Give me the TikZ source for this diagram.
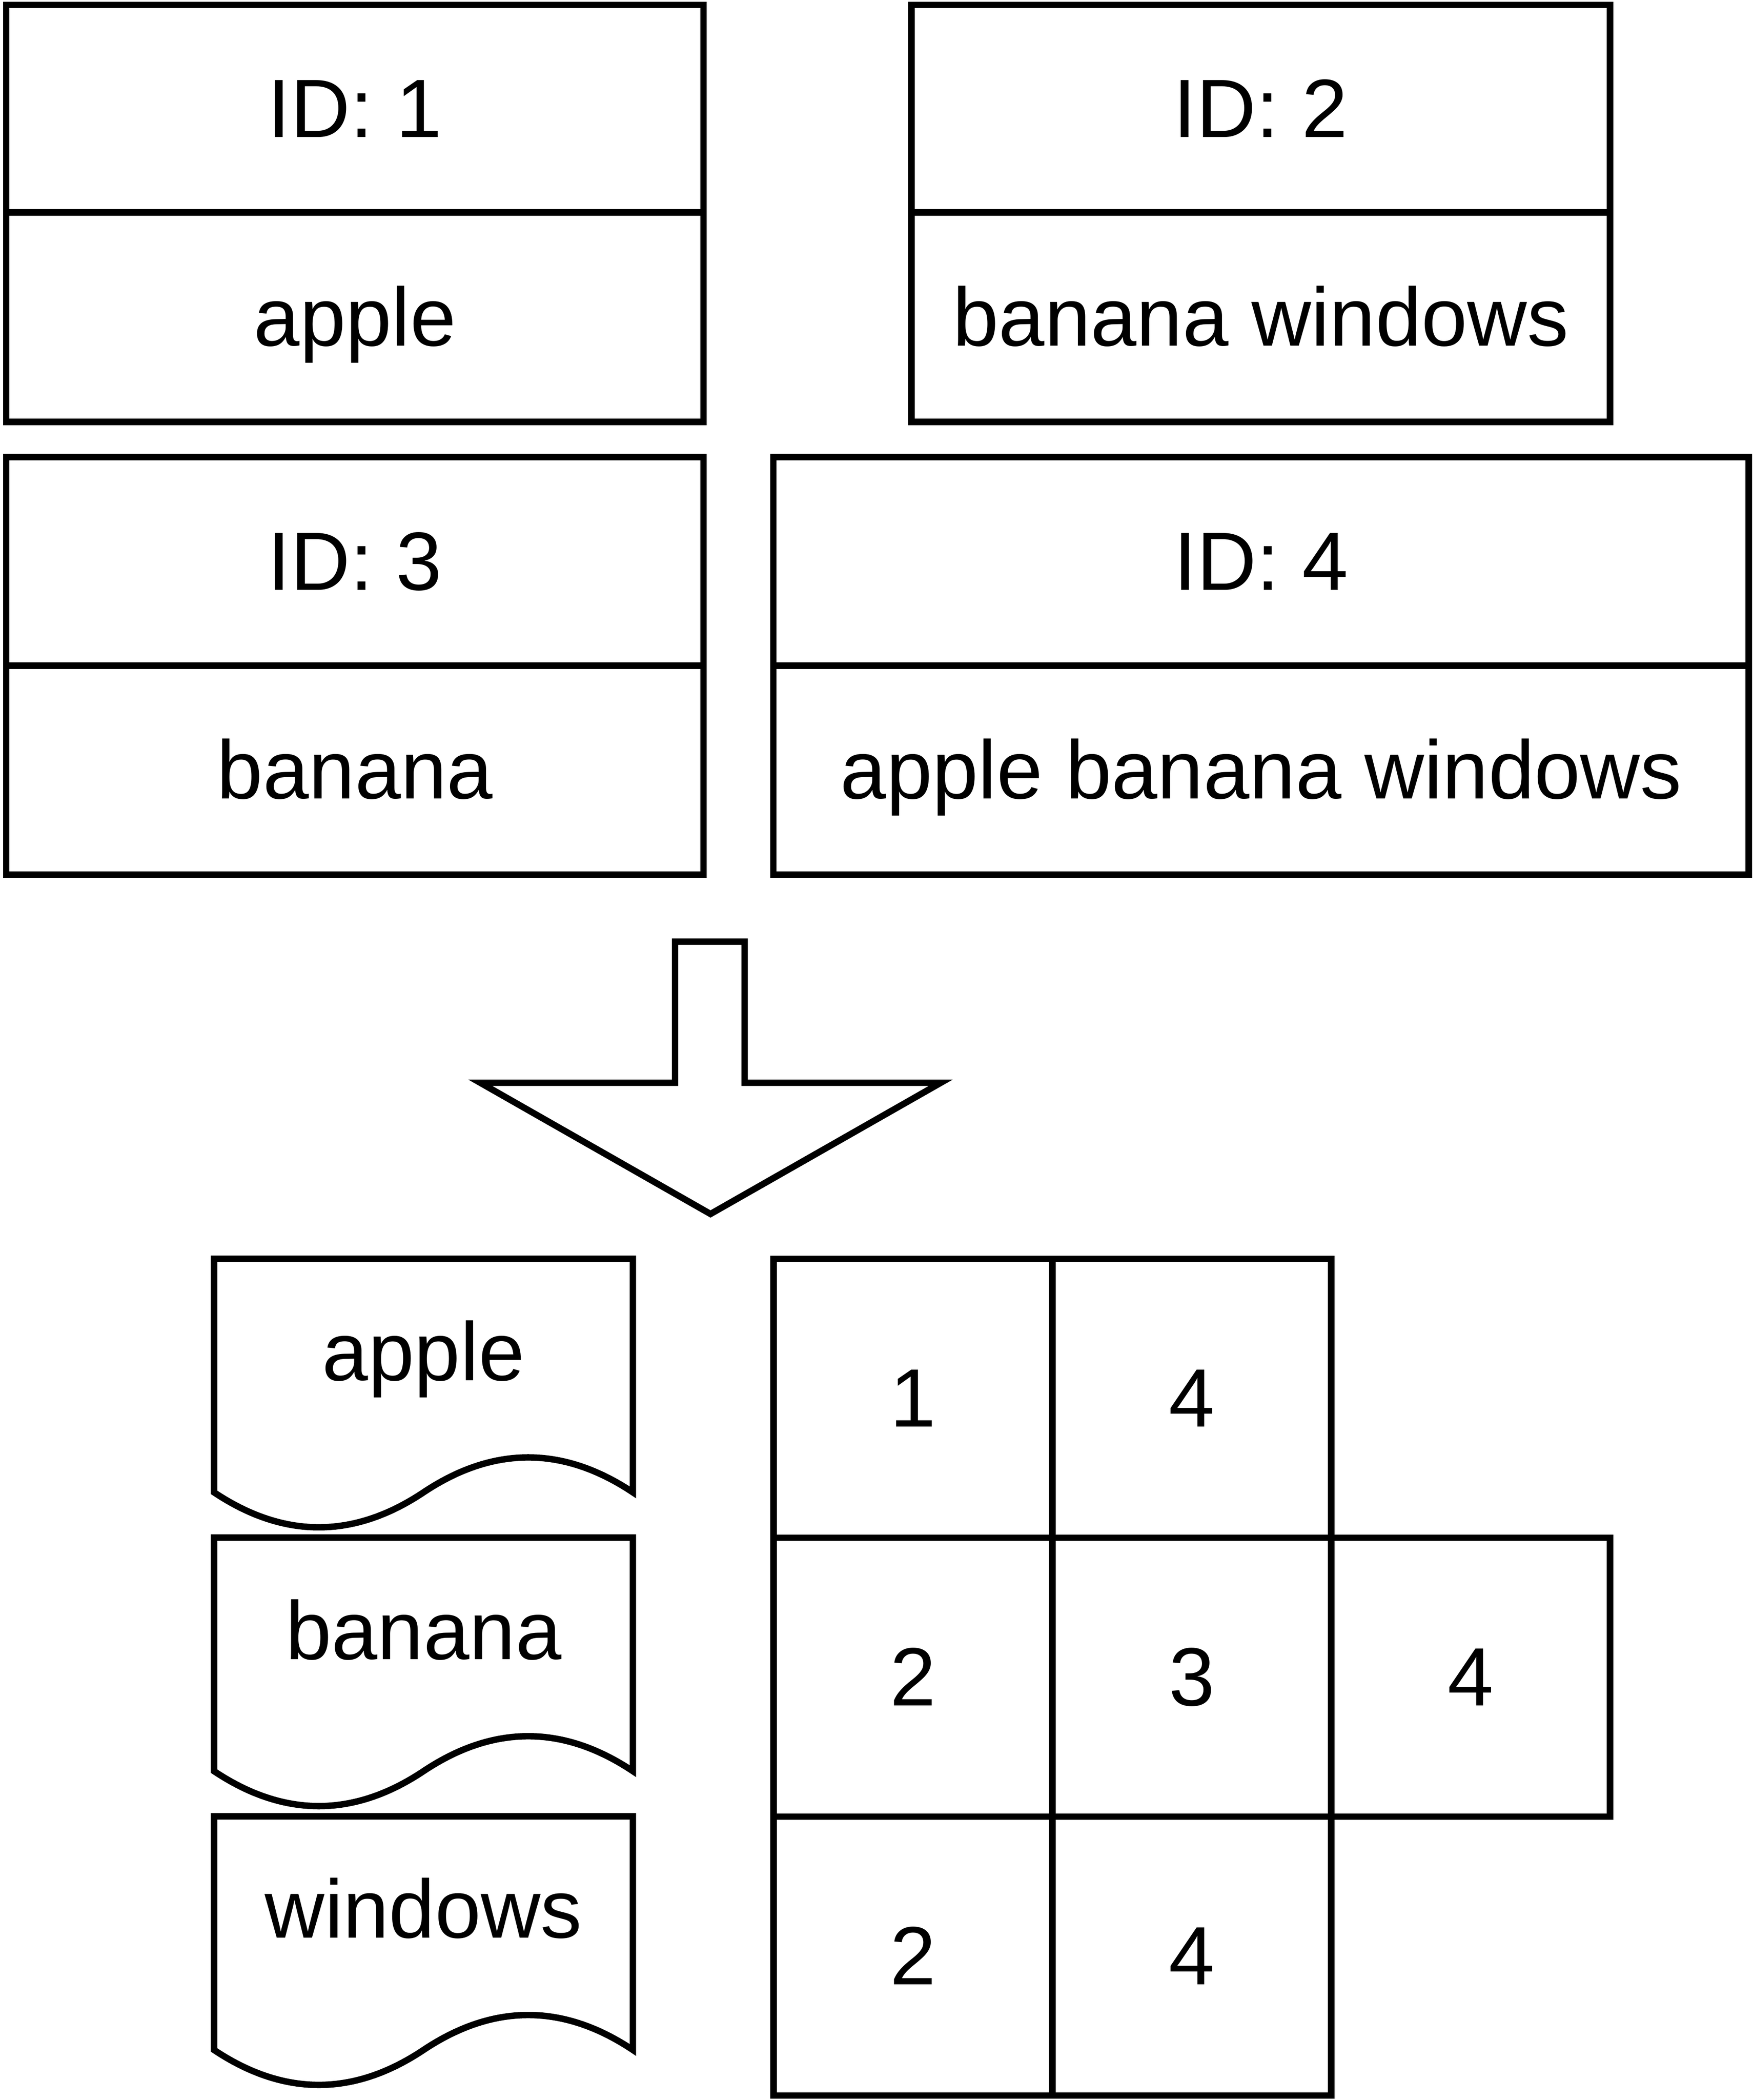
\documentclass[tikz,border=0pt]{standalone}
\usepackage{fontspec}
\setmainfont{Liberation Sans}
\begin{document}
\begin{tikzpicture}[x=1pt,y=-1pt,line join=miter,
  lw/.style={line width=4.8pt},
  sect/.style={draw,lw,rectangle,inner sep=0pt,outer sep=0pt,
    font=\fontsize{61.8}{74}\selectfont,text height=55.9pt,text depth=13.1pt},
  lbl/.style={inner sep=0pt,font=\fontsize{61.8}{74}\selectfont,text height=55.9pt,text depth=13.1pt},
  gcell/.style={sect,minimum width=208.4pt,minimum height=208.4pt}]
\useasboundingbox (0,0) rectangle (1310,1569);
% top records
\node[sect,minimum width=521.1pt,minimum height=155.1pt] (h1) at (265.25,81.15) {ID: 1};
\node[sect,minimum width=521.1pt,minimum height=156.5pt] (b1) at (265.25,236.95) {apple};
\node[sect,minimum width=522pt,minimum height=155.1pt] (h2) at (942.2,81.15) {ID: 2};
\node[sect,minimum width=522pt,minimum height=156.5pt] (b2) at (942.2,236.95) {banana windows};
\node[sect,minimum width=521.1pt,minimum height=155.8pt] (h3) at (265.25,419.4) {ID: 3};
\node[sect,minimum width=521.1pt,minimum height=156.3pt] (b3) at (265.25,575.45) {banana};
\node[sect,minimum width=729.1pt,minimum height=155.8pt] (h4) at (942.45,419.4) {ID: 4};
\node[sect,minimum width=729.1pt,minimum height=156.3pt] (b4) at (942.45,575.45) {apple banana windows};
% big arrow
\draw[lw] (504.5,703.5) -- (556.5,703.5) -- (556.5,809) -- (703,809) -- (531,907)
  -- (359,809) -- (504.5,809) -- cycle;
% documents
\foreach \t/\n/\lab in {0/d1/apple,208.3/d2/banana,416.6/d3/windows}{
  \begin{scope}[shift={(0,\t)}]
  \draw[lw] (160,940.5) -- (473,940.5) -- (473,1115)
    .. controls (420.83,1080.2) and (368.67,1080.2) .. (316.5,1115)
    .. controls (264.33,1149.8) and (212.17,1149.8) .. (160,1115) -- cycle;
  \node[lbl] (\n) at (316.5,1010) {\lab};
  \end{scope}
}
% grid
\node[gcell] (c11) at (682.25,1044.65) {1};
\node[gcell] (c12) at (890.65,1044.65) {4};
\node[gcell] (c21) at (682.25,1253.05) {2};
\node[gcell] (c22) at (890.65,1253.05) {3};
\node[gcell] (c23) at (1099.05,1253.05) {4};
\node[gcell] (c31) at (682.25,1461.45) {2};
\node[gcell] (c32) at (890.65,1461.45) {4};
\end{tikzpicture}
\end{document}
